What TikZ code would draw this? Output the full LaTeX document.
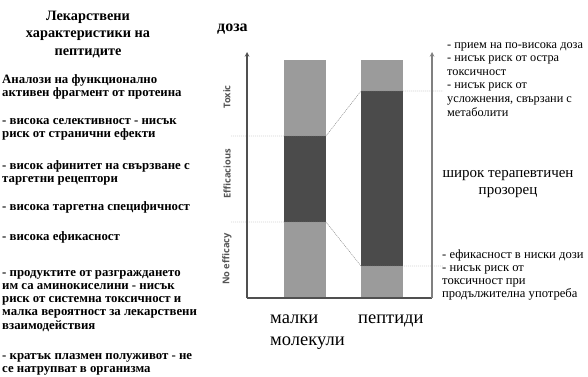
\documentclass[tikz,border=0pt]{standalone}
\usepackage{fontspec}
\setmainfont{Liberation Serif}
\newfontfamily\axisfont{Open Sans}
\usepackage{xcolor}
\usetikzlibrary{arrows, positioning, calc}

\definecolor{barlight}{HTML}{9B9B9B}
\definecolor{bardark}{HTML}{4B4B4B}
\definecolor{axisgray}{HTML}{505050}
\definecolor{labelgray}{HTML}{555555}

\begin{document}
\begin{tikzpicture}[>=stealth, x=1pt, y=-1pt,
    leftpar/.style={anchor=base west, align=left, inner sep=0pt,
      font=\bfseries\fontsize{12.8}{13.3}\selectfont},
    rightpar/.style={anchor=base west, align=left, inner sep=0pt,
      font=\fontsize{12.3}{13.6}\selectfont},
    axislabel/.style={rotate=90, inner sep=0pt, text=labelgray,
      font=\axisfont\bfseries\fontsize{9.3}{10}\selectfont},
    dotline/.style={gray, thin, dash pattern=on 1.2pt off 0.8pt}]
    %\draw[step=10, gray!20, very thin] (0,0) grid (588,376);
    \useasboundingbox (0,0) rectangle (588,376);

    % left column (base = last line)
    \node[anchor=base, align=center, inner sep=0pt,
      font=\bfseries\fontsize{14.3}{17.5}\selectfont] (title) at (88,55)
      {Лекарствени\\характеристики на\\пептидите};

    \node[leftpar] (par1) at (2,96.3) {Аналози на функционално\\активен фрагмент от протеина};
    \node[leftpar] (par2) at (2,137.3) {- висока селективност - нисък\\риск от странични ефекти};
    \node[leftpar] (par3) at (2,182.3) {- висок афинитет на свързване с\\таргетни рецептори};
    \node[leftpar] (par4) at (2,210) {- висока таргетна специфичност};
    \node[leftpar] (par5) at (2,240) {- висока ефикасност};
    \node[leftpar] (par6) at (2,329.2) {- продуктите от разграждането\\им са аминокиселини - нисък\\риск от системна токсичност и\\малка вероятност за лекарствени\\взаимодействия};
    \node[leftpar] (par7) at (2,372.5) {- кратък плазмен полуживот - не\\се натрупват в организма};

    % chart
    \node[anchor=base west, inner sep=0pt, font=\bfseries\fontsize{16}{18}\selectfont] (doza) at (217,31) {доза};

    \fill[barlight] (284,60) rectangle (326,298);
    \fill[bardark] (284,136) rectangle (326,222);
    \fill[barlight] (361,60) rectangle (403,298);
    \fill[bardark] (361,91) rectangle (403,266);

    \coordinate (origin) at (247,298);
    \coordinate (ytop) at (247,52);
    \coordinate (xend) at (432,298);
    \coordinate (rtop) at (432,52);

    \coordinate (toxstart) at (231,136);
    \coordinate (smtox) at (326,136);
    \coordinate (pptox) at (361,91);
    \coordinate (toxend) at (443,91);
    \coordinate (effstart) at (231,222);
    \coordinate (smeff) at (326,222);
    \coordinate (ppeff) at (361,266);
    \coordinate (effend) at (443,266);

    \draw[dotline] (toxstart) -- (smtox) -- (pptox) -- (toxend);
    \draw[dotline] (effstart) -- (smeff) -- (ppeff) -- (effend);

    \draw[->, axisgray, line width=1.1pt] (origin) -- (ytop);
    \draw[axisgray, line width=1.1pt] (origin) -- (xend);
    \draw[->, gray, line width=1.1pt] (xend) -- (rtop);

    \node[axislabel] (toxic) at (227,97) {Toxic};
    \node[axislabel] (effic) at (227,174) {Efficacious};
    \node[axislabel] (noeff) at (227,259) {No efficacy};

    \node[anchor=base west, align=left, inner sep=0pt,
      font=\fontsize{18.5}{22}\selectfont] (small) at (270,345) {малки\\молекули};
    \node[anchor=base west, inner sep=0pt,
      font=\fontsize{18.5}{22}\selectfont] (pept) at (358,323) {пептиди};

    % right column
    \node[rightpar] (hidose) at (447,116) {- прием на по-висока доза\\- нисък риск от остра\\токсичност\\- нисък риск от\\усложнения, свързани с\\метаболити};
    \node[align=center, inner sep=0pt, anchor=base,
      font=\fontsize{15}{17}\selectfont] (window) at (508,194) {широк терапевтичен\\прозорец};
    \node[rightpar, font=\fontsize{12.6}{13.2}\selectfont] (lodose) at (442,297.6) {- ефикасност в ниски дози\\- нисък риск от\\токсичност при\\продължителна употреба};

  \end{tikzpicture}
\end{document}
